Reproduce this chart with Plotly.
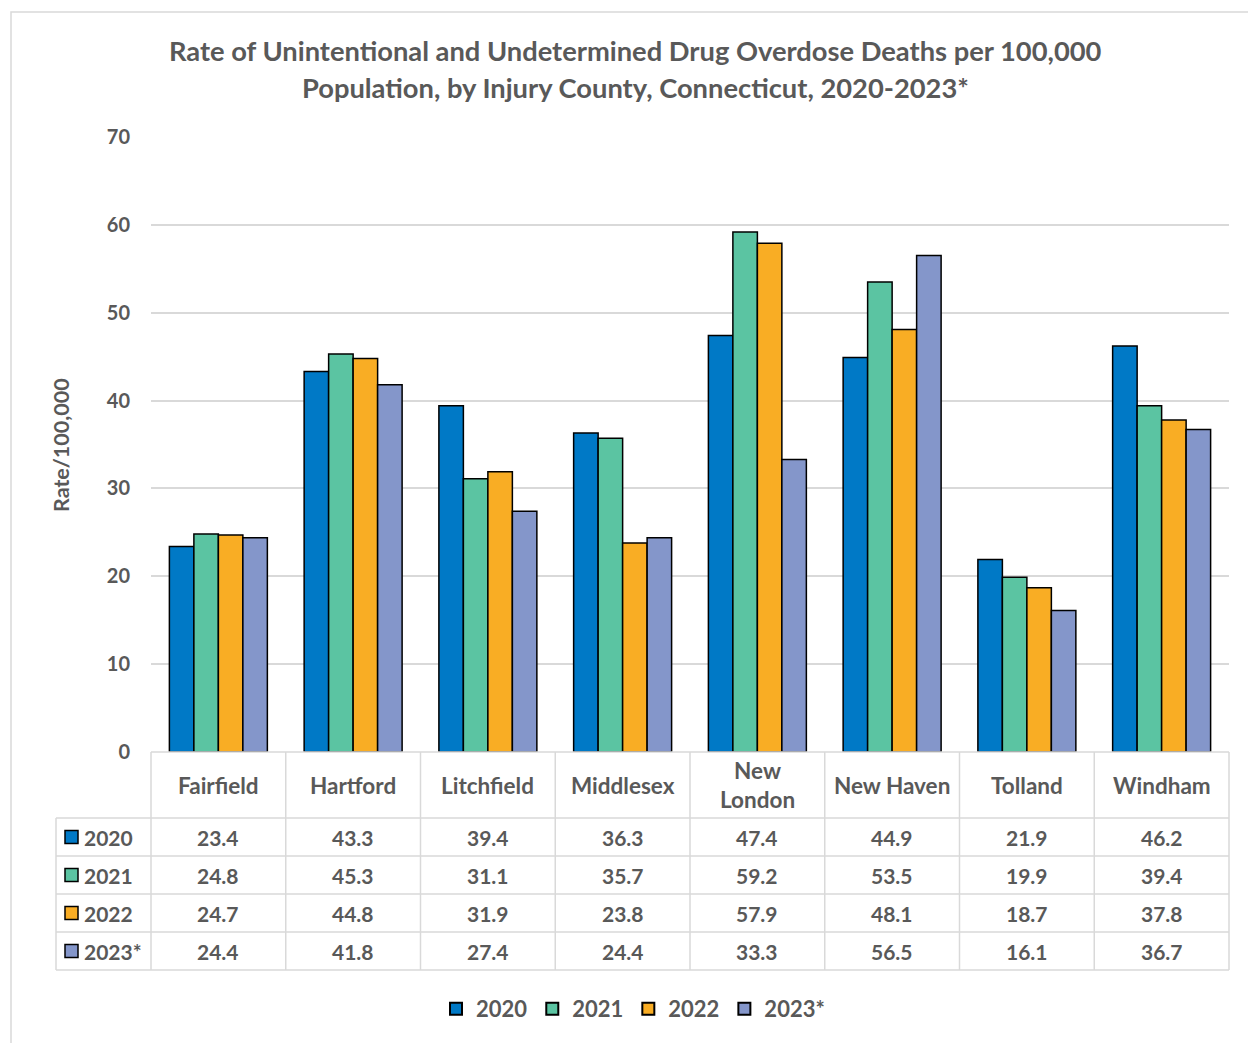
import plotly.graph_objects as go

counties = ["Fairfield", "Hartford", "Litchfield", "Middlesex", "New London",
            "New Haven", "Tolland", "Windham"]
county_labels = ["Fairfield", "Hartford", "Litchfield", "Middlesex", "New<br>London",
                 "New Haven", "Tolland", "Windham"]
years = ["2020", "2021", "2022", "2023*"]
v2020 = [23.4, 43.3, 39.4, 36.3, 47.4, 44.9, 21.9, 46.2]
v2021 = [24.8, 45.3, 31.1, 35.7, 59.2, 53.5, 19.9, 39.4]
v2022 = [24.7, 44.8, 31.9, 23.8, 57.9, 48.1, 18.7, 37.8]
v2023 = [24.4, 41.8, 27.4, 24.4, 33.3, 56.5, 16.1, 36.7]
series = [v2020, v2021, v2022, v2023]
colors = ["#0079C6", "#5BC4A2", "#F9AD24", "#8496CA"]

W, H = 1248, 1043
L, R, T, B = 151, 19, 137, 291
PW, PH = W - L - R, H - T - B
FONT = "Lato"
GRAY = "#595959"
GRID = "#D9D9D9"

def py(p):  # pixel y -> paper y
    return (H - B - p) / PH

def px(p):  # pixel x -> paper x
    return (p - L) / PW

def f(size):
    return dict(family=FONT, size=size, color=GRAY, weight="bold")

fig = go.Figure()
for name, vals, col in zip(years, series, colors):
    fig.add_trace(go.Bar(
        x=counties, y=vals, name=name,
        marker=dict(color=col, line=dict(color="#000000", width=1.5)),
    ))

shapes = []
annotations = []

# outer chart border
shapes.append(dict(type="rect", xref="paper", yref="paper",
                   x0=px(11), x1=px(1260), y0=py(1060), y1=py(12),
                   line=dict(color=GRID, width=1.5), layer="below"))

# data table grid
row_lines = [752, 818, 856, 894, 932, 970]
for i, yl in enumerate(row_lines):
    x0 = 0 if i == 0 else px(56)
    shapes.append(dict(type="line", xref="paper", yref="paper",
                       x0=x0, x1=1, y0=py(yl), y1=py(yl),
                       line=dict(color=GRID, width=1.5)))
for k in range(len(counties) + 1):
    xb = px(L + k * PW / len(counties))
    shapes.append(dict(type="line", xref="paper", yref="paper",
                       x0=xb, x1=xb, y0=py(752), y1=py(970),
                       line=dict(color=GRID, width=1.5)))
shapes.append(dict(type="line", xref="paper", yref="paper",
                   x0=px(56), x1=px(56), y0=py(818), y1=py(970),
                   line=dict(color=GRID, width=1.5)))

def ann(x, y, text, size, xref="paper", xanchor="center", **kw):
    d = dict(xref=xref, yref="paper", x=x, y=y, text=f"<b>{text}</b>",
             showarrow=False, xanchor=xanchor, yanchor="middle", font=f(size))
    d.update(kw)
    annotations.append(d)

# category header
for k, lab in enumerate(county_labels):
    ann(k, py(785), lab, 22.5, xref="x")

row_centers = [837, 875, 913, 951]
for r, (name, vals, col) in enumerate(zip(years, series, colors)):
    yc = row_centers[r]
    shapes.append(dict(type="rect", xref="paper", yref="paper",
                       x0=px(65), x1=px(78), y0=py(yc + 6.5), y1=py(yc - 6.5),
                       fillcolor=col, line=dict(color="#000000", width=1.5)))
    ann(px(82), py(yc), name, 21, xanchor="left")
    for k, v in enumerate(vals):
        ann(k, py(yc), f"{v:.1f}", 21, xref="x")

# title
ann(px(635), py(51), "Rate of Unintentional and Undetermined Drug Overdose Deaths per 100,000", 27.3)
ann(px(635), py(87), "Population, by Injury County, Connecticut, 2020-2023*", 27.3)
# y axis title
ann(px(61), py(445), "Rate/100,000", 21.5, textangle=-90)

fig.update_layout(
    width=W, height=H,
    margin=dict(l=L, r=R, t=T, b=B),
    paper_bgcolor="white", plot_bgcolor="white",
    barmode="group", bargap=0.273, bargroupgap=0,
    font=dict(family=FONT, color=GRAY, weight="bold"),
    showlegend=True,
    legend=dict(orientation="h", xref="paper", yref="paper",
                x=px(633), xanchor="center", y=py(1009), yanchor="middle",
                font=f(22), itemsizing="constant"),
    shapes=shapes, annotations=annotations,
)
fig.update_xaxes(showticklabels=False, showgrid=False, zeroline=False,
                 showline=False, ticks="")
fig.update_yaxes(range=[0, 70], dtick=10, showgrid=True, gridcolor=GRID,
                 gridwidth=1.5, zeroline=False, showline=False, ticks="",
                 ticklabelstandoff=20, tickfont=f(20))

fig.write_html("out.html")
